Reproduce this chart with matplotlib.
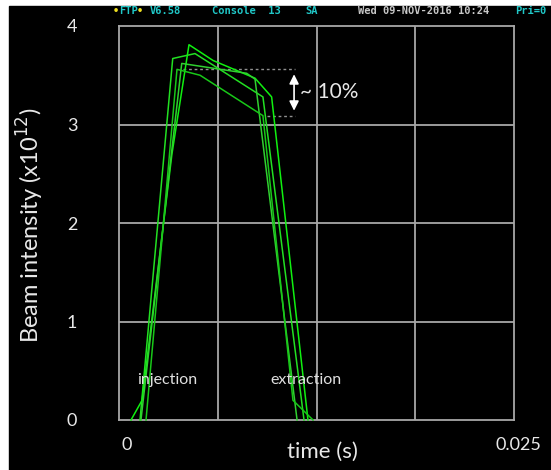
import matplotlib
matplotlib.use("Agg")
import matplotlib.pyplot as plt
from matplotlib.patches import Rectangle
from matplotlib.transforms import ScaledTranslation

plt.rcParams['font.family'] = ['Lato', 'DejaVu Sans']

# four intensity traces from the scope, time in s, intensity in 1e12
t1 = [0.00133, 0.00340, 0.00481, 0.00911, 0.01171]
i1 = [0.0, 3.67, 3.72, 3.28, 0.0]

t2 = [0.00076, 0.00146, 0.00335, 0.00443, 0.00595, 0.00861, 0.00966, 0.01196]
i2 = [0.0, 0.20, 2.70, 3.81, 3.65, 3.47, 3.28, 0.0]

t3 = [0.00139, 0.00397, 0.00808, 0.00861, 0.01127]
i3 = [0.0, 3.62, 3.52, 3.46, 0.0]

t4 = [0.00171, 0.00367, 0.00513, 0.00911, 0.01101, 0.01228]
i4 = [0.0, 3.56, 3.50, 3.09, 0.20, 0.0]

traces = [(t1, i1), (t2, i2), (t3, i3), (t4, i4)]
greens = ['#22e022', '#10f010', '#30d030', '#18c818']

# intensity drop during the flat top
drop_start, drop_end = 0.00405, 0.00937
drop_stop = 0.01114
level_hi, level_lo = 3.56, 3.09

y_ticks = [0, 1, 2, 3, 4]
x_ticks = [0, 0.025]
x_tick_labels = ['0', '0.025']

W, H = 551, 470
fig = plt.figure(figsize=(W / 100, H / 100), dpi=100)
fig.patch.set_facecolor('white')
fig.add_artist(Rectangle((9 / W, 0), 1 - 9 / W, 1 - 6 / H,
                         transform=fig.transFigure, color='black', zorder=0))

ax = fig.add_axes([119 / W, 50 / H, 395 / W, 394 / H])
ax.set_facecolor('black')
ax.set_xlim(0, 0.025)
ax.set_ylim(0, 4)

grid_col = '#a8a8a8'
for v in [0.00625, 0.0125, 0.01875]:
    ax.axvline(v, color=grid_col, lw=1.3, zorder=1)
for v in [1, 2, 3]:
    ax.axhline(v, color=grid_col, lw=1.3, zorder=1)
for s in ax.spines.values():
    s.set_color(grid_col)
    s.set_linewidth(1.3)

for (t, i), c in zip(traces, greens):
    ax.plot(t, i, color=c, lw=1.1, zorder=3, clip_on=False)

ax.plot([drop_start, drop_stop], [level_hi, level_hi], ls=(0, (2, 2)),
        color='#909090', lw=1, zorder=2)
ax.plot([drop_end, drop_stop], [level_lo, level_lo], ls=(0, (2, 2)),
        color='#909090', lw=1, zorder=2)
ax.annotate('', xy=(0.01108, level_hi - 0.05), xytext=(0.01108, level_lo + 0.05),
            arrowprops=dict(arrowstyle='<|-|>', color='white', lw=1.2,
                            mutation_scale=14, shrinkA=0, shrinkB=0))
ax.text(0.01330, 3.33, '~ 10%', color='#e8e8e8', fontsize=15,
        ha='center', va='center')

ax.text(0.00302, 0.41, 'injection', color='#e0e0e0', fontsize=11.5,
        ha='center', va='center')
ax.text(0.01183, 0.41, 'extraction', color='#e0e0e0', fontsize=11.5,
        ha='center', va='center')

ax.set_yticks(y_ticks)
ax.set_xticks(x_ticks, x_tick_labels)
ax.tick_params(length=0, colors='#e8e8e8', labelsize=13)
ax.tick_params(axis='y', pad=30)
ax.tick_params(axis='x', pad=12)
shifts = [8, 4]
for lab, dx in zip(ax.get_xticklabels(), shifts):
    lab.set_transform(lab.get_transform() + ScaledTranslation(dx / 100, 0, fig.dpi_scale_trans))

ax.set_xlabel('time (s)', color='#e8e8e8', fontsize=16)
ax.xaxis.set_label_coords((322 - 119) / 395, -0.055)
ax.set_ylabel('Beam intensity (x10$^{12}$)', color='#e8e8e8', fontsize=17)
ax.yaxis.set_label_coords(-0.185, 0.495)

# console header line
mono = dict(family='DejaVu Sans Mono', fontsize=7.5, fontweight='bold', va='center')
fy = 1 - 11 / H
fig.text(113 / W, fy, '\u2022', color='#f0e020', **mono)
fig.text(119 / W, fy, 'FTP', color='#20c8c8', **mono)
fig.text(137 / W, fy, '\u2022', color='#f0e020', **mono)
fig.text(150 / W, fy, 'V6.58', color='#20c8c8', **mono)
fig.text(212 / W, fy, 'Console  13', color='#20c8c8', **mono)
fig.text(305 / W, fy, 'SA', color='#20c8c8', **mono)
fig.text(358 / W, fy, 'Wed 09-NOV-2016 10:24', color='#c8c8c8', **mono)
fig.text(515 / W, fy, 'Pri=0', color='#20c8c8', **mono)

fig.savefig('out.png', dpi=100, facecolor=fig.get_facecolor())
